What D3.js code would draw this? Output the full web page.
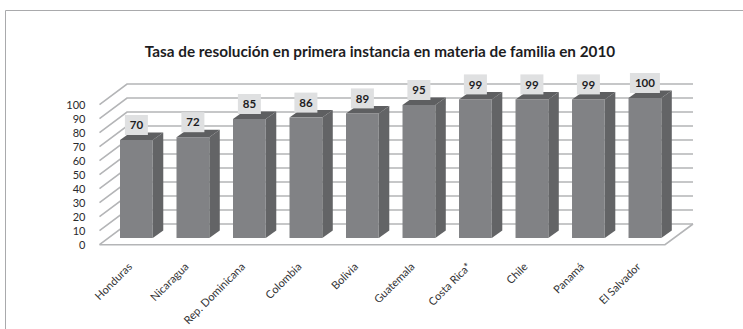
<!DOCTYPE html>
<html><head><meta charset="utf-8">
<script src="https://cdn.jsdelivr.net/npm/d3@7"></script>
<style>html,body{margin:0;padding:0;background:#fff}svg{display:block}text{font-family:Lato,sans-serif}</style>
</head><body><svg id="c" width="743" height="329"></svg>
<script>
const categories = ["Honduras","Nicaragua","Rep. Dominicana","Colombia","Bolivia","Guatemala","Costa Rica*","Chile","Panamá","El Salvador"];
const values = [70,72,85,86,89,95,99,99,99,100];
const yTicks = [0,10,20,30,40,50,60,70,80,90,100];
const titleText = "Tasa de resolución en primera instancia en materia de familia en 2010";

const svg = d3.select("#c");
const floorFrontY = 244.7, floorBackY = 224, wallDx = 27.5;
const y = d3.scaleLinear().domain([0,100]).range([floorFrontY, floorFrontY-140]);
const x = d3.scaleBand().domain(categories).range([120,661.3]).paddingInner(0.42).paddingOuter(0);
const barBase = 238, dx = 10.5, dy = 7.5;
const barY = v => barBase - (y(0)-y(v));

// frame
svg.append("path").attr("d","M5.5,329V10.5H743").attr("fill","none").attr("stroke","#a9aaac").attr("stroke-width",1);

// title
svg.append("text").attr("x",380).attr("y",57).attr("text-anchor","middle")
  .attr("font-size",15.3).attr("font-weight",700).attr("fill","#1d1d1f").text(titleText);

// grid
const back = floorBackY-floorFrontY;
const grid = svg.append("g").attr("fill","none").attr("stroke","#b4b5b7").attr("stroke-width",1.6);
yTicks.forEach(t=>{
  const yy=y(t);
  grid.append("path").attr("d",`M99.5,${yy}L${99.5+wallDx},${yy+back}H693`);
});
grid.append("path").attr("d",`M99.5,${y(0)}H665L693,${y(0)+back}`);

// bars
const bars = svg.append("g").selectAll("g").data(categories).join("g");
bars.append("path").attr("fill","#636466").attr("d",(c,i)=>{
  const r=x(c)+x.bandwidth(), t=barY(values[i]);
  return `M${r},${t}L${r+dx},${t-dy}V${barBase-dy}L${r},${barBase}Z`;
});
bars.append("path").attr("fill","#5e5f61").attr("d",(c,i)=>{
  const l=x(c), r=l+x.bandwidth(), t=barY(values[i]);
  return `M${l},${t}L${l+dx},${t-dy}H${r+dx}L${r},${t}Z`;
});
bars.append("rect").attr("fill","#818285")
  .attr("x",c=>x(c)).attr("width",x.bandwidth())
  .attr("y",(c,i)=>barY(values[i])).attr("height",(c,i)=>barBase-barY(values[i]));

// value labels
const lab = svg.append("g").selectAll("g").data(categories).join("g")
  .attr("transform",(c,i)=>`translate(${x(c)+x.bandwidth()/2},${barY(values[i])-15})`);
lab.append("rect").attr("fill","#dfe0e1")
  .attr("x",(c,i)=>values[i]>=100?-15:-11.5).attr("width",(c,i)=>values[i]>=100?30:23)
  .attr("y",-10).attr("height",20);
lab.append("text").attr("text-anchor","middle").attr("y",4.2).attr("font-size",11.5).attr("font-weight",700)
  .attr("fill","#1d1d1f").text((c,i)=>values[i]);

// y axis labels
svg.append("g").selectAll("text").data(yTicks).join("text")
  .attr("x",85.5).attr("y",t=>y(t)+4).attr("text-anchor","end")
  .attr("font-size",11).attr("fill","#2a2a2c").text(t=>t);

// x axis labels
svg.append("g").selectAll("text").data(categories).join("text")
  .attr("text-anchor","end").attr("font-size",11).attr("fill","#333335")
  .attr("transform",c=>`translate(${x(c)+x.bandwidth()/2-9},${262}) rotate(-45)`)
  .attr("dy","0.7em").text(c=>c);
</script></body></html>
